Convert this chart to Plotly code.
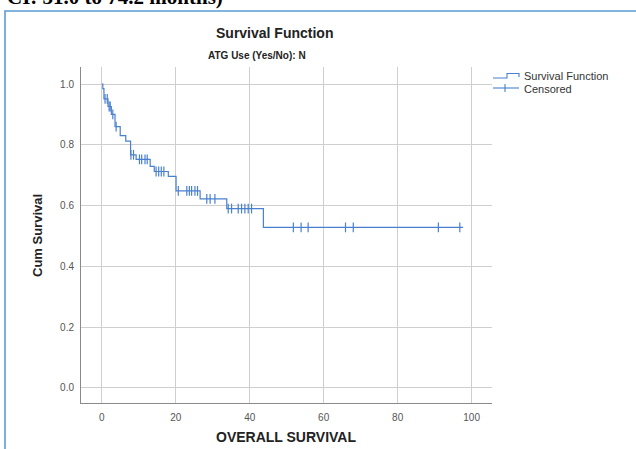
import plotly.graph_objects as go

# Kaplan-Meier estimate: event times (months) and survival right after each event
event_times = [0.3, 0.6, 1.7, 2.6, 3.6, 5.0, 6.5, 7.8, 9.3, 13.1, 14.2, 18.0, 20.1, 26.6, 33.8, 43.7]
survival = [0.985, 0.951, 0.926, 0.900, 0.860, 0.830, 0.812, 0.767, 0.752, 0.729, 0.712, 0.696,
            0.648, 0.622, 0.590, 0.528]
last_followup = 97.7

# Censored observation times (months)
censored_times = [0.9, 1.5, 2.0, 2.3, 3.0, 3.9, 7.9, 8.6, 10.2, 10.8, 11.7, 12.3,
                  14.7, 15.4, 16.1, 16.8, 20.7, 23.0, 23.7, 24.3, 25.2, 25.9,
                  28.4, 29.3, 30.6, 34.2, 35.1, 36.9, 37.8, 38.7, 39.6, 40.5,
                  51.8, 53.9, 55.8, 65.9, 68.0, 91.0, 96.8]

x_ticks = [0, 20, 40, 60, 80, 100]
y_ticks = [0.0, 0.2, 0.4, 0.6, 0.8, 1.0]

CURVE = "#4a80d0"
FONT = "Liberation Sans, Arial, sans-serif"

# step path through the estimate
step_x = [0] + event_times + [last_followup]
step_y = [1.0] + survival + [survival[-1]]


def surv_at(t):
    s = 1.0
    for et, sv in zip(event_times, survival):
        if et <= t:
            s = sv
    return s


cens_y = [surv_at(t) for t in censored_times]

fig = go.Figure()
fig.add_trace(go.Scatter(x=step_x, y=step_y, mode="lines", line=dict(shape="hv", color=CURVE, width=1.2),
                         name="Survival Function", showlegend=False))
fig.add_trace(go.Scatter(x=censored_times, y=cens_y, mode="markers",
                         marker=dict(symbol="line-ns-open", size=7, color=CURVE,
                                     line=dict(color=CURVE, width=1.2)),
                         name="Censored", showlegend=False))

# plot area in pixels
L, R, T, B = 81, 492, 67, 403


def px(x):
    return (x - L) / (R - L)


def py(y):
    return (B - y) / (B - T)


shapes = [
    # page frame
    dict(type="rect", xref="paper", yref="paper", x0=px(5), x1=px(700), y0=py(520), y1=py(11),
         line=dict(color="#5b9bd5", width=1.6), fillcolor="rgba(0,0,0,0)", layer="above"),
    # legend icon: step
    dict(type="path", xref="paper", yref="paper",
         path=f"M {px(493)} {py(78)} L {px(507)} {py(78)} L {px(507)} {py(73.5)} L {px(519)} {py(73.5)} L {px(519)} {py(77)}",
         line=dict(color=CURVE, width=1.1)),
    # legend icon: censored
    dict(type="line", xref="paper", yref="paper", x0=px(493), x1=px(519), y0=py(88), y1=py(88),
         line=dict(color=CURVE, width=1.1)),
    dict(type="line", xref="paper", yref="paper", x0=px(505), x1=px(505), y0=py(84), y1=py(92),
         line=dict(color=CURVE, width=1.1)),
]

annotations = [
    dict(text="<b>CI: 31.0 to 74.2 months)</b>", xref="paper", yref="paper", x=px(5), y=py(-3),
         xanchor="left", yanchor="middle", showarrow=False,
         font=dict(family="Liberation Serif, Times New Roman, serif", size=21, color="#000")),
    dict(text="<b>Survival Function</b>", xref="paper", yref="paper", x=px(274), y=py(33),
         xanchor="center", yanchor="middle", showarrow=False, font=dict(family=FONT, size=14, color="#222")),
    dict(text="<b>ATG Use (Yes/No): N</b>", xref="paper", yref="paper", x=px(257), y=py(56),
         xanchor="center", yanchor="middle", showarrow=False, font=dict(family=FONT, size=10, color="#222")),
    dict(text="<b>OVERALL SURVIVAL</b>", xref="paper", yref="paper", x=px(286), y=py(437),
         xanchor="center", yanchor="middle", showarrow=False, font=dict(family=FONT, size=14, color="#222")),
    dict(text="<b>Cum Survival</b>", xref="paper", yref="paper", x=px(37), y=py(236), textangle=-90,
         xanchor="center", yanchor="middle", showarrow=False, font=dict(family=FONT, size=13, color="#222")),
    dict(text="Survival Function", xref="paper", yref="paper", x=px(522), y=py(76),
         xanchor="left", yanchor="middle", showarrow=False, font=dict(family=FONT, size=11, color="#333")),
    dict(text="Censored", xref="paper", yref="paper", x=px(522), y=py(88.5),
         xanchor="left", yanchor="middle", showarrow=False, font=dict(family=FONT, size=11, color="#333")),
]

fig.update_layout(
    width=636, height=449,
    margin=dict(l=L, r=636 - R, t=T, b=449 - B),
    paper_bgcolor="white", plot_bgcolor="white",
    showlegend=False,
    shapes=shapes, annotations=annotations,
    xaxis=dict(range=[-5.6, 105.5], tickvals=x_ticks, showgrid=True, gridcolor="#cfcfcf", gridwidth=1,
               zeroline=False, showline=True, linecolor="#8a8a8a", linewidth=1,
               ticks="outside", ticklen=5, tickcolor="rgba(0,0,0,0)",
               tickfont=dict(family=FONT, size=10, color="#555")),
    yaxis=dict(range=[-0.050, 1.056], tickvals=y_ticks, tickformat=".1f", showgrid=True, gridcolor="#cfcfcf",
               gridwidth=1, zeroline=False, showline=True, linecolor="#8a8a8a", linewidth=1,
               ticks="outside", ticklen=4, tickcolor="rgba(0,0,0,0)",
               tickfont=dict(family=FONT, size=10, color="#555")),
)

fig.write_html("out.html")
